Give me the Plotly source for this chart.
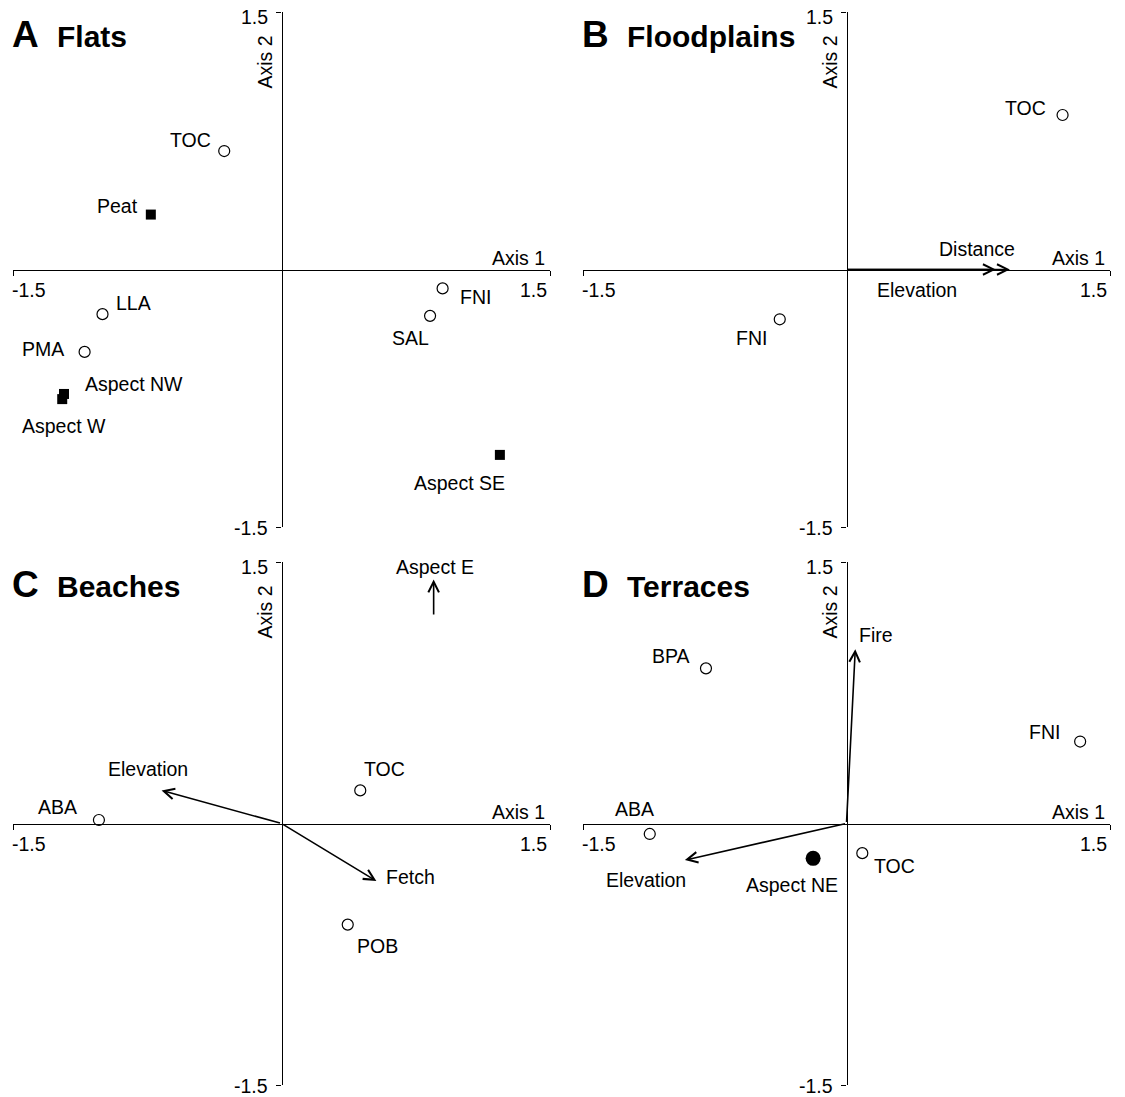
import plotly.graph_objects as go

# ---------------- DATA ----------------
# Panel A - Flats
A_species = ["TOC", "LLA", "PMA", "FNI", "SAL"]
A_species_x = [-0.32, -1.00, -1.10, 0.90, 0.83]
A_species_y = [0.69, -0.26, -0.48, -0.11, -0.27]
A_factors = ["Peat", "Aspect NW", "Aspect W", "Aspect SE"]
A_factors_x = [-0.73, -1.215, -1.225, 1.22]
A_factors_y = [0.32, -0.725, -0.755, -1.08]

# Panel B - Floodplains
B_species = ["TOC", "FNI"]
B_species_x = [1.23, -0.38]
B_species_y = [0.90, -0.29]
B_vectors = ["Distance", "Elevation"]
B_vectors_x = [0.93, 0.85]
B_vectors_y = [0.0, 0.0]

# Panel C - Beaches
C_species = ["TOC", "ABA", "POB"]
C_species_x = [0.44, -1.02, 0.37]
C_species_y = [0.19, 0.02, -0.58]
C_vectors = ["Elevation", "Fetch"]
C_vectors_x = [-0.67, 0.53]
C_vectors_y = [0.19, -0.33]
C_offscale = ["Aspect E"]
C_offscale_x = [0.85]
C_offscale_y0 = [1.19]
C_offscale_y1 = [1.40]

# Panel D - Terraces
D_species = ["BPA", "FNI", "ABA", "TOC"]
D_species_x = [-0.80, 1.33, -1.12, 0.09]
D_species_y = [0.89, 0.47, -0.06, -0.17]
D_vectors = ["Fire", "Elevation"]
D_vectors_x = [0.05, -0.92]
D_vectors_y = [1.00, -0.21]
D_factors = ["Aspect NE"]
D_factors_x = [-0.19]
D_factors_y = [-0.20]

panel_letters = ["A", "B", "C", "D"]
panel_titles = ["Flats", "Floodplains", "Beaches", "Terraces"]
axis_min, axis_max = -1.5, 1.5
tick_text_min, tick_text_max = "-1.5", "1.5"

# ---------------- STYLE / LAYOUT ----------------
W, H = 1125, 1097
FONT = "Arial, Liberation Sans, sans-serif"
FS = 19.5

def px_x(p):
    return p / W

def px_y(p):
    return 1 - p / H

# pixel boxes of the axis extents (left, right, top, bottom)
boxes = [(13, 550, 12, 527), (583, 1110, 12, 527), (13, 550, 562, 1085), (583, 1110, 562, 1085)]

# label offsets (xshift, yshift) in px, per panel and label
lab_off = {
    ("A", "TOC"): (-34, 11), ("A", "LLA"): (31, 11), ("A", "PMA"): (-42, 3),
    ("A", "FNI"): (33, -9), ("A", "SAL"): (-20, -22), ("A", "Peat"): (-33, 9),
    ("A", "Aspect NW"): (70, 10), ("A", "Aspect W"): (2, -27), ("A", "Aspect SE"): (-40, -28),
    ("B", "TOC"): (-37, 7), ("B", "FNI"): (-28, -19),
    ("B", "Distance"): (-33, 21), ("B", "Elevation"): (-79, -20),
    ("C", "TOC"): (24, 21), ("C", "ABA"): (-41, 13), ("C", "POB"): (30, -21),
    ("C", "Elevation"): (-14, 21), ("C", "Fetch"): (34, 4), ("C", "Aspect E"): (1, 12),
    ("D", "BPA"): (-35, 12), ("D", "FNI"): (-36, 10), ("D", "ABA"): (-15, 25),
    ("D", "TOC"): (32, -13), ("D", "Fire"): (21, 14), ("D", "Elevation"): (-39, -20),
    ("D", "Aspect NE"): (-21, -27),
}

fig = go.Figure()
annotations = []
layout_axes = {}

for i, (l, r, t, b) in enumerate(boxes):
    n = "" if i == 0 else str(i + 1)
    xd = [px_x(l), px_x(r)]
    yd = [px_y(b), px_y(t)]
    common = dict(range=[axis_min, axis_max], showgrid=False, zeroline=False,
                  showline=True, linecolor="black", linewidth=1.4,
                  ticks="outside", ticklen=5, tickwidth=1.3, tickcolor="black",
                  tickvals=[axis_min, axis_max], showticklabels=False,
                  anchor="free", fixedrange=True)
    layout_axes["xaxis" + n] = dict(domain=xd, position=(yd[0] + yd[1]) / 2, **common)
    layout_axes["yaxis" + n] = dict(domain=yd, position=(xd[0] + xd[1]) / 2, **common)

    xr, yr = "x" + n, "y" + n
    tf = dict(family=FONT, size=FS, color="black")
    # tick labels
    annotations += [
        dict(x=0, y=axis_max, xref=xr, yref=yr, text=tick_text_max, showarrow=False,
             xanchor="right", yanchor="middle", xshift=-12, yshift=-5, font=tf),
        dict(x=0, y=axis_min, xref=xr, yref=yr, text=tick_text_min, showarrow=False,
             xanchor="right", yanchor="middle", xshift=-12, yshift=-1, font=tf),
        dict(x=axis_min, y=0, xref=xr, yref=yr, text=tick_text_min, showarrow=False,
             xanchor="left", yanchor="middle", xshift=-3, yshift=-20, font=tf),
        dict(x=axis_max, y=0, xref=xr, yref=yr, text=tick_text_max, showarrow=False,
             xanchor="right", yanchor="middle", xshift=-1, yshift=-20, font=tf),
        dict(x=axis_max, y=0, xref=xr, yref=yr, text="Axis 1", showarrow=False,
             xanchor="right", yanchor="bottom", xshift=-3, yshift=-1, font=tf),
        dict(x=0, y=axis_max, xref=xr, yref=yr, text="Axis 2", showarrow=False,
             textangle=-90, xanchor="center", yanchor="middle", xshift=-17, yshift=-50, font=tf),
    ]
    # panel title
    annotations += [
        dict(x=px_x(l - 3), y=px_y(t + 22), xref="paper", yref="paper", text="<b>%s</b>" % panel_letters[i],
             showarrow=False, xanchor="left", yanchor="middle",
             font=dict(family=FONT, size=37, color="black")),
        dict(x=px_x(l + 42), y=px_y(t + 24), xref="paper", yref="paper", text="<b>%s</b>" % panel_titles[i],
             showarrow=False, xanchor="left", yanchor="middle",
             font=dict(family=FONT, size=30, color="black")),
    ]

def add_labels(names, xs, ys, letter, n):
    for nm, x, y in zip(names, xs, ys):
        dx, dy = lab_off[(letter, nm)]
        annotations.append(dict(x=x, y=y, xref="x" + n, yref="y" + n, text=nm, showarrow=False,
                                xanchor="center", yanchor="middle", xshift=dx, yshift=dy,
                                font=dict(family=FONT, size=FS, color="black")))

def add_species(names, xs, ys, letter, n):
    fig.add_trace(go.Scatter(x=xs, y=ys, mode="markers", xaxis="x" + n, yaxis="y" + n,
                             marker=dict(symbol="circle", size=11, color="white",
                                         line=dict(color="black", width=1.2)),
                             cliponaxis=False, showlegend=False, hoverinfo="text", text=names))
    add_labels(names, xs, ys, letter, n)

def add_factors(names, xs, ys, letter, n, symbol, size):
    fig.add_trace(go.Scatter(x=xs, y=ys, mode="markers", xaxis="x" + n, yaxis="y" + n,
                             marker=dict(symbol=symbol, size=size, color="black",
                                         line=dict(color="black", width=0)),
                             cliponaxis=False, showlegend=False, hoverinfo="text", text=names))
    add_labels(names, xs, ys, letter, n)

def add_vectors(names, xs, ys, letter, n, x0s=None, y0s=None):
    for k, (nm, x, y) in enumerate(zip(names, xs, ys)):
        ax = 0 if x0s is None else x0s[k]
        ay = 0 if y0s is None else y0s[k]
        annotations.append(dict(x=x, y=y, ax=ax, ay=ay, xref="x" + n, yref="y" + n,
                                axref="x" + n, ayref="y" + n, text="", showarrow=True,
                                arrowhead=5, arrowsize=1.3, arrowwidth=1.6, arrowcolor="black",
                                standoff=0, startstandoff=0))
    add_labels(names, xs, ys, letter, n)

add_species(A_species, A_species_x, A_species_y, "A", "")
add_factors(A_factors, A_factors_x, A_factors_y, "A", "", "square", 10)

add_species(B_species, B_species_x, B_species_y, "B", "2")
add_vectors(B_vectors, B_vectors_x, B_vectors_y, "B", "2")

add_species(C_species, C_species_x, C_species_y, "C", "3")
add_vectors(C_vectors, C_vectors_x, C_vectors_y, "C", "3")
add_vectors(C_offscale, C_offscale_x, C_offscale_y1, "C", "3", x0s=C_offscale_x, y0s=C_offscale_y0)

add_species(D_species, D_species_x, D_species_y, "D", "4")
add_vectors(D_vectors, D_vectors_x, D_vectors_y, "D", "4")
add_factors(D_factors, D_factors_x, D_factors_y, "D", "4", "circle", 15)

fig.update_layout(width=W, height=H, margin=dict(l=0, r=0, t=0, b=0),
                  paper_bgcolor="white", plot_bgcolor="white",
                  annotations=annotations, showlegend=False, **layout_axes)

fig.write_html("out.html")
